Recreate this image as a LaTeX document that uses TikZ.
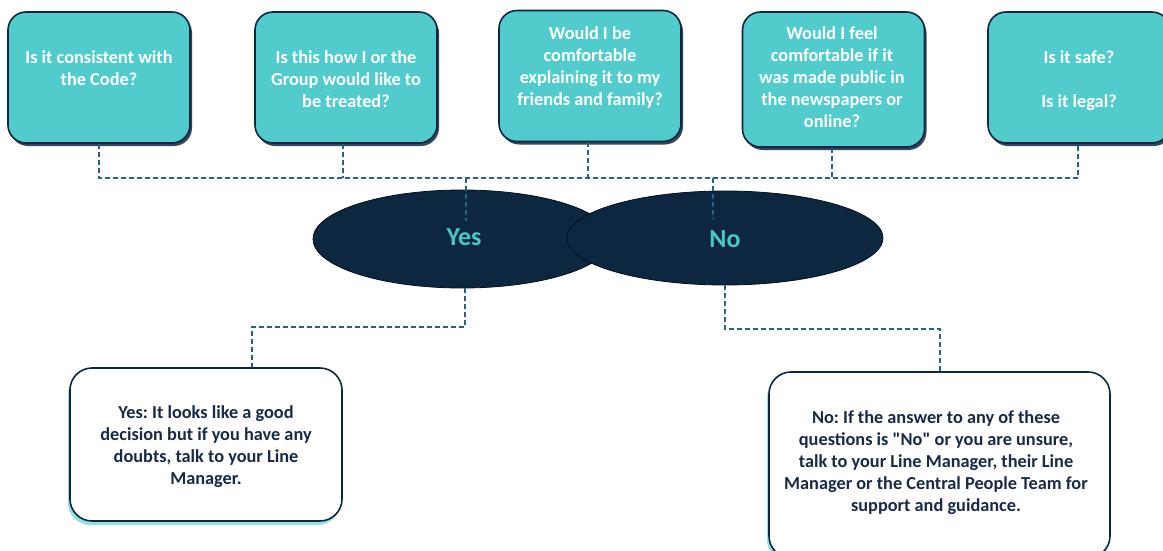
\documentclass[tikz,border=0pt]{standalone}
\usepackage{fontspec}
\setmainfont{Carlito}
\frenchspacing
\usetikzlibrary{shapes.geometric,shadows}
\definecolor{tealbox}{RGB}{81,203,203}
\definecolor{tealtext}{RGB}{74,198,198}
\definecolor{navy}{RGB}{14,39,64}
\definecolor{navytext}{RGB}{24,42,70}
\definecolor{dashcol}{RGB}{40,98,132}
\tikzset{
  qbox/.style={draw=navy, line width=1.6pt, fill=tealbox, rounded corners=18pt,
    minimum width=182pt, minimum height=131pt, inner sep=0pt,
    drop shadow={shadow xshift=2pt, shadow yshift=-3pt, fill=navy, opacity=0.85}},
  qtext/.style={text=white, font=\bfseries\fontsize{18.3}{22}\selectfont, align=center, inner sep=0pt},
  abox/.style={draw=navy, line width=1.6pt, fill=white, rounded corners=22pt, inner sep=0pt,
    drop shadow={shadow xshift=-2pt, shadow yshift=-4pt, fill=tealbox, opacity=0.6}},
  atext/.style={text=navytext, font=\bfseries\fontsize{18.3}{22}\selectfont, align=center, inner sep=0pt},
  oval/.style={ellipse, draw=black!60!navy, line width=0.8pt, fill=navy, inner sep=0pt},
  ovaltext/.style={text=tealtext, font=\bfseries\fontsize{26}{30}\selectfont, inner sep=0pt},
  conn/.style={draw=dashcol, line width=1.4pt, dash pattern=on 5pt off 3pt}
}
\begin{document}
\begin{tikzpicture}[x=1pt,y=-1pt]
\path[use as bounding box] (0,0) rectangle (1163,551);
\clip (0,0) rectangle (1163,551);
% question boxes
\node[qbox] (q1) at (99,77.5) {};
\node[qbox] (q2) at (346,77.5) {};
\node[qbox] (q3) at (590,76) {};
\node[qbox, minimum height=135pt] (q4) at (833.5,79.5) {};
\node[qbox] (q5) at (1079,77.5) {};
\node[qtext] (t1) at (99,68) {Is it consistent with\\the Code?};
\node[qtext] (t2) at (346,79) {Is this how I or the\\Group would like to\\be treated?};
\node[qtext] (t3) at (590,68) {Would I be\\comfortable\\explaining it to my\\friends and family?};
\node[qtext] (t4) at (832,77) {Would I feel\\comfortable if it\\was made public in\\the newspapers or\\online?};
\node[qtext] (t5) at (1079,81) {Is it safe?\\[22pt]Is it legal?};
% bus
\coordinate (bus1) at (99,178);
\coordinate (bus5) at (1078,178);
\coordinate (yesin) at (466,221);
\coordinate (noin) at (713,219);
\draw[conn] (q1.south) -- (bus1) -- (bus5) -- (q5.south -| bus5);
\draw[conn] (q2.south -| 343,0) -- (343,178);
\draw[conn] (q3.south -| 588,0) -- (588,178);
\draw[conn] (q4.south -| 832,0) -- (832,178);
% ovals
\node[oval, minimum width=298pt, minimum height=98pt] (yes) at (462,239) {};
\node[oval, minimum width=316pt, minimum height=94pt] (no) at (725,238) {};
\node[ovaltext] (yeslbl) at (464,237) {Yes};
\node[ovaltext] (nolbl) at (725,239) {No};
\draw[conn] (yesin |- bus1) -- (yesin);
\draw[conn] (noin |- bus1) -- (noin);
% answer boxes
\node[abox, minimum width=272pt, minimum height=153pt] (ybox) at (206,444.5) {};
\node[atext] (ytext) at (206,447) {Yes: It looks like a good\\decision but if you have any\\doubts, talk to your Line\\Manager.};
\node[abox, minimum width=341pt, minimum height=186pt] (nbox) at (939.5,465) {};
\node[atext] (ntext) at (936,463) {No: If the answer to any of these\\questions is \textquotedbl No\textquotedbl{} or you are unsure,\\talk to your Line Manager, their Line\\Manager or the Central People Team for\\support and guidance.};
\coordinate (ybend) at (252,327);
\coordinate (nbend) at (940,329);
\draw[conn] (yes.south -| 465,0) |- (ybend) -- (ybend |- ybox.north);
\draw[conn] (no.south) |- (nbend) -- (nbend |- nbox.north);
\end{tikzpicture}
\end{document}
